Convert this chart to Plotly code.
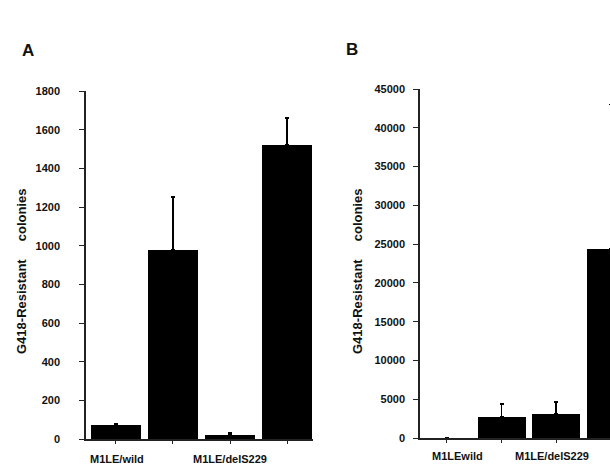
import plotly.graph_objects as go

# Panel A data
a_pos = [1, 2, 3, 4]
a_values = [72, 978, 20, 1521]
a_err = [8, 274, 10, 140]
a_ticks = [0, 200, 400, 600, 800, 1000, 1200, 1400, 1600, 1800]
a_labels = ["M1LE/wild", "M1LE/delS229"]
a_label_pos = [1.02, 3.0]

# Panel B data
b_pos = [1, 2, 3, 4]
b_values = [0, 2700, 3100, 24400]
b_err = [None, 1700, 1550, 18600]
b_ticks = [0, 5000, 10000, 15000, 20000, 25000, 30000, 35000, 40000, 45000]
b_labels = ["M1LEwild", "M1LE/delS229"]
b_label_pos = [1.2, 2.92]

ytitle = "G418-Resistant\u00a0\u00a0\u00a0\u00a0\u00a0colonies"
FONT = "Liberation Sans, Arial, sans-serif"
W, H = 610, 466

fig = go.Figure()

fig.add_trace(go.Bar(
    x=a_pos, y=a_values, width=0.877, marker=dict(color="black", line=dict(width=0)),
    error_y=dict(type="data", symmetric=False, array=a_err, arrayminus=[0]*4,
                 color="black", thickness=1.5, width=2),
    xaxis="x", yaxis="y", showlegend=False))

fig.add_trace(go.Bar(
    x=b_pos, y=b_values, width=0.88, marker=dict(color="black", line=dict(width=0)),
    error_y=dict(type="data", symmetric=False, array=b_err,
                 arrayminus=[None, 0, 0, 0],
                 color="black", thickness=1.5, width=2),
    xaxis="x2", yaxis="y2", showlegend=False))

axis_common = dict(showgrid=False, zeroline=False, showline=True, linecolor="#222",
                   linewidth=1.5, ticks="outside", tickcolor="#222", tickwidth=1.2)

fig.update_layout(
    width=W, height=H, margin=dict(l=0, r=0, t=0, b=0, autoexpand=False),
    paper_bgcolor="white", plot_bgcolor="white",
    font=dict(family=FONT, color="#111"),
    bargap=0,
    xaxis=dict(domain=[86/W, 313/W], range=[0.474, 4.456], tickvals=a_pos,
               showticklabels=False, ticklen=3, anchor="y", **axis_common),
    yaxis=dict(domain=[1-439/H, 1-91/H], range=[0, 1800], tickvals=a_ticks,
               tickformat="d", ticklen=5, ticklabelstandoff=17, anchor="x",
               tickfont=dict(size=11, family=FONT, weight="bold", color="#111"),
               **axis_common),
    xaxis2=dict(domain=[420/W, 1.0], range=[0.506, 3.985], tickvals=b_pos,
                showticklabels=False, ticklen=3, anchor="y2", **axis_common),
    yaxis2=dict(domain=[1-438/H, 1-89/H], range=[0, 45000], tickvals=b_ticks,
                tickformat="d", ticklen=5, ticklabelstandoff=6, anchor="x2",
                tickfont=dict(size=11, family=FONT, weight="bold", color="#111"),
                **axis_common),
)

ann = []
for lab, xp in zip(a_labels, a_label_pos):
    ann.append(dict(text=lab, x=xp, xref="x", y=1-459/H, yref="paper", showarrow=False,
                    xanchor="center", yanchor="middle",
                    font=dict(size=11, family=FONT, weight="bold", color="#111")))
for lab, xp in zip(b_labels, b_label_pos):
    ann.append(dict(text=lab, x=xp, xref="x2", y=1-456/H, yref="paper", showarrow=False,
                    xanchor="center", yanchor="middle",
                    font=dict(size=11, family=FONT, weight="bold", color="#111")))
for xp in [21, 357]:
    ann.append(dict(text=ytitle, x=xp/W, xref="paper", y=1-272/H, yref="paper",
                    showarrow=False, textangle=-90, xanchor="center", yanchor="middle",
                    font=dict(size=13, family=FONT, weight="bold", color="#111")))
ann.append(dict(text="A", x=28/W, y=1-51/H, xref="paper", yref="paper", showarrow=False,
                xanchor="center", yanchor="middle",
                font=dict(size=17, family=FONT, weight="bold", color="#111")))
ann.append(dict(text="B", x=352/W, y=1-50/H, xref="paper", yref="paper", showarrow=False,
                xanchor="center", yanchor="middle",
                font=dict(size=17, family=FONT, weight="bold", color="#111")))
fig.update_layout(annotations=ann)

fig.write_html("out.html")
